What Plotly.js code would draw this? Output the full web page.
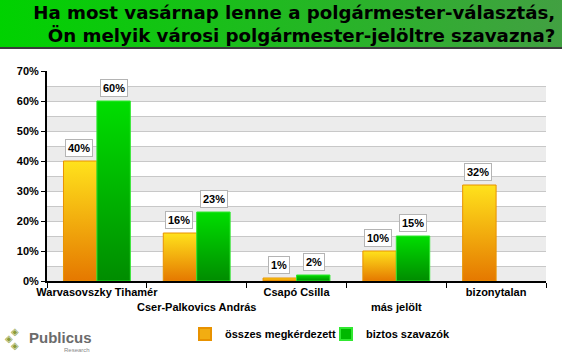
<!DOCTYPE html>
<html>
<head>
<meta charset="utf-8">
<script src="https://cdn.plot.ly/plotly-3.0.1.min.js"></script>
<style>
html,body{margin:0;padding:0;background:#fff;}
#chart{width:562px;height:357px;}
</style>
</head>
<body>
<div id="chart"></div>
<script>
const categories = ["Warvasovszky Tihamér", "Cser-Palkovics András", "Csapó Csilla", "más jelölt", "bizonytalan"];
const seriesNames = ["összes megkérdezett", "biztos szavazók"];
const osszes = [40, 16, 1, 10, 32];
const biztos = [60, 23, 2, 15, null];
const yTickVals = [0, 10, 20, 30, 40, 50, 60, 70];
const yTickText = ["0%", "10%", "20%", "30%", "40%", "50%", "60%", "70%"];
const titleText = "Ha most vasárnap lenne a polgármester-választás,<br>Ön melyik városi polgármester-jelöltre szavazna?";

const FONT = "Liberation Sans, Arial, sans-serif";
const tickText = categories.map((c, i) => i % 2 ? "\u00a0<br><b>" + c + "</b>" : "<b>" + c + "</b>");

const traces = [
  {
    type: "bar", name: "<b>" + seriesNames[0] + "</b>", x: categories, y: osszes,
    marker: {color: "#f2ad12", line: {color: "#e89200", width: 1}},
    hoverinfo: "skip"
  },
  {
    type: "bar", name: "<b>" + seriesNames[1] + "</b>", x: categories, y: biztos,
    marker: {color: "#00b800", line: {color: "#30e830", width: 1}},
    hoverinfo: "skip"
  }
];

const annotations = [];
[osszes, biztos].forEach((arr, s) => {
  arr.forEach((v, i) => {
    if (v === null) return;
    annotations.push({
      x: categories[i], y: v, xref: "x", yref: "y",
      text: "<b>" + v + "%</b>", showarrow: false,
      xshift: s === 0 ? -18 : 17, yanchor: "bottom", yshift: 4,
      font: {family: FONT, size: 11, color: "#000"},
      bgcolor: "#ffffff", bordercolor: "#b4b4b4", borderwidth: 1, borderpad: 2
    });
  });
});

const L = 47, R = 16, T = 71, B = 76, W = 562, H = 357;
const pw = W - L - R, ph = H - T - B;
const px = v => (v - L) / pw;          // container x pixel -> paper
const py = v => (H - B - v) / ph;      // container y pixel -> paper

// logo
annotations.push({xref: "paper", yref: "paper", x: px(27), y: py(337), xanchor: "left", yanchor: "middle",
  text: "<b>Publicus</b>", showarrow: false,
  font: {family: FONT, size: 15, color: "#6b6b6b"}});
annotations.push({xref: "paper", yref: "paper", x: px(92), y: py(349.5), xanchor: "right", yanchor: "middle",
  text: "Research", showarrow: false, font: {family: FONT, size: 6, color: "#8a8a8a"}});
[[15, 331], [9, 338], [15, 345]].forEach(([xx, yy]) => {
  annotations.push({xref: "paper", yref: "paper", x: px(xx), y: py(yy), xanchor: "center", yanchor: "middle",
    text: "◈", showarrow: false, font: {family: "DejaVu Sans", size: 10, color: "#8c9c38"}});
});

const shapes = [];
for (let b = 0; b < 70; b += 10) {
  shapes.push({type: "rect", xref: "paper", yref: "y", x0: 0, x1: 1, y0: b, y1: b + 5,
    fillcolor: "#ececec", line: {width: 0}, layer: "below"});
}

const headerSvg = '<svg xmlns="http://www.w3.org/2000/svg" width="562" height="50" preserveAspectRatio="none">' +
  '<defs><linearGradient id="g" x1="0" y1="0" x2="1" y2="0"><stop offset="0" stop-color="#00d200"/><stop offset="1" stop-color="#42a042"/></linearGradient></defs>' +
  '<rect x="0" y="0" width="562" height="47" fill="url(#g)"/><rect x="0" y="47" width="562" height="2" fill="#3a3a3a"/></svg>';

const layout = {
  width: W, height: H,
  margin: {l: L, r: R, t: T, b: B, pad: 0, autoexpand: false},
  paper_bgcolor: "#ffffff", plot_bgcolor: "#ffffff",
  font: {family: FONT, size: 11, color: "#000"},
  title: {
    text: "<b>" + titleText + "</b>",
    font: {family: "DejaVu Sans, sans-serif", size: 18.2, color: "#000"},
    xref: "container", yref: "container", x: 0.988, xanchor: "right", y: 0.948, yanchor: "top",
    pad: {t: 0}
  },
  images: [{
    source: "data:image/svg+xml;charset=utf-8," + encodeURIComponent(headerSvg),
    xref: "paper", yref: "paper", x: -L / pw, y: 1 + T / ph, sizex: W / pw, sizey: 50 / ph,
    xanchor: "left", yanchor: "top", sizing: "stretch", layer: "below"
  }],
  barmode: "group", bargap: 0.33, bargroupgap: 0.0,
  xaxis: {
    type: "category", tickvals: categories, ticktext: tickText, tickangle: 0,
    showline: true, linecolor: "#000", linewidth: 2,
    ticks: "outside", tickson: "boundaries", ticklen: 5, tickcolor: "#000", tickwidth: 1,
    tickfont: {family: FONT, size: 11, color: "#000"},
    showgrid: false, fixedrange: true, automargin: false
  },
  yaxis: {
    range: [0, 70], tickvals: yTickVals, ticktext: yTickText.map(t => "<b>" + t + "</b>"),
    showline: true, linecolor: "#000", linewidth: 2,
    ticks: "outside", ticklen: 4, tickcolor: "#000",
    tickfont: {family: FONT, size: 11, color: "#000"},
    showgrid: true, gridcolor: "#c8c8c8", gridwidth: 1, zeroline: false,
    minor: {dtick: 5, showgrid: true, gridcolor: "#c8c8c8", gridwidth: 1, ticks: ""},
    fixedrange: true, automargin: false
  },
  legend: {
    orientation: "h", x: px(185), xanchor: "left", y: py(334), yanchor: "middle",
    font: {family: FONT, size: 11, color: "#000"}, itemsizing: "constant",
    traceorder: "normal", bgcolor: "rgba(0,0,0,0)", entrywidth: 96
  },
  showlegend: true,
  shapes: shapes,
  annotations: annotations
};

Plotly.newPlot("chart", traces, layout, {displayModeBar: false, staticPlot: true}).then(gd => {
  const svg = gd.querySelector(".main-svg");
  const ns = "http://www.w3.org/2000/svg";
  let defs = svg.querySelector("defs");
  if (!defs) { defs = document.createElementNS(ns, "defs"); svg.insertBefore(defs, svg.firstChild); }
  const mk = (id, top, bot) => {
    const g = document.createElementNS(ns, "linearGradient");
    g.setAttribute("id", id); g.setAttribute("x1", "0"); g.setAttribute("y1", "0");
    g.setAttribute("x2", "0"); g.setAttribute("y2", "1");
    const s1 = document.createElementNS(ns, "stop"); s1.setAttribute("offset", "0"); s1.setAttribute("stop-color", top);
    const s2 = document.createElementNS(ns, "stop"); s2.setAttribute("offset", "1"); s2.setAttribute("stop-color", bot);
    g.appendChild(s1); g.appendChild(s2); defs.appendChild(g);
  };
  mk("gradOrange", "#ffe21c", "#e57800");
  mk("gradGreen", "#00de00", "#008c00");
  gd.querySelectorAll(".barlayer .trace").forEach((t, i) => {
    t.querySelectorAll("path").forEach(p => {
      p.style.fill = i === 0 ? "url(#gradOrange)" : "url(#gradGreen)";
    });
  });
});
</script>
</body>
</html>
